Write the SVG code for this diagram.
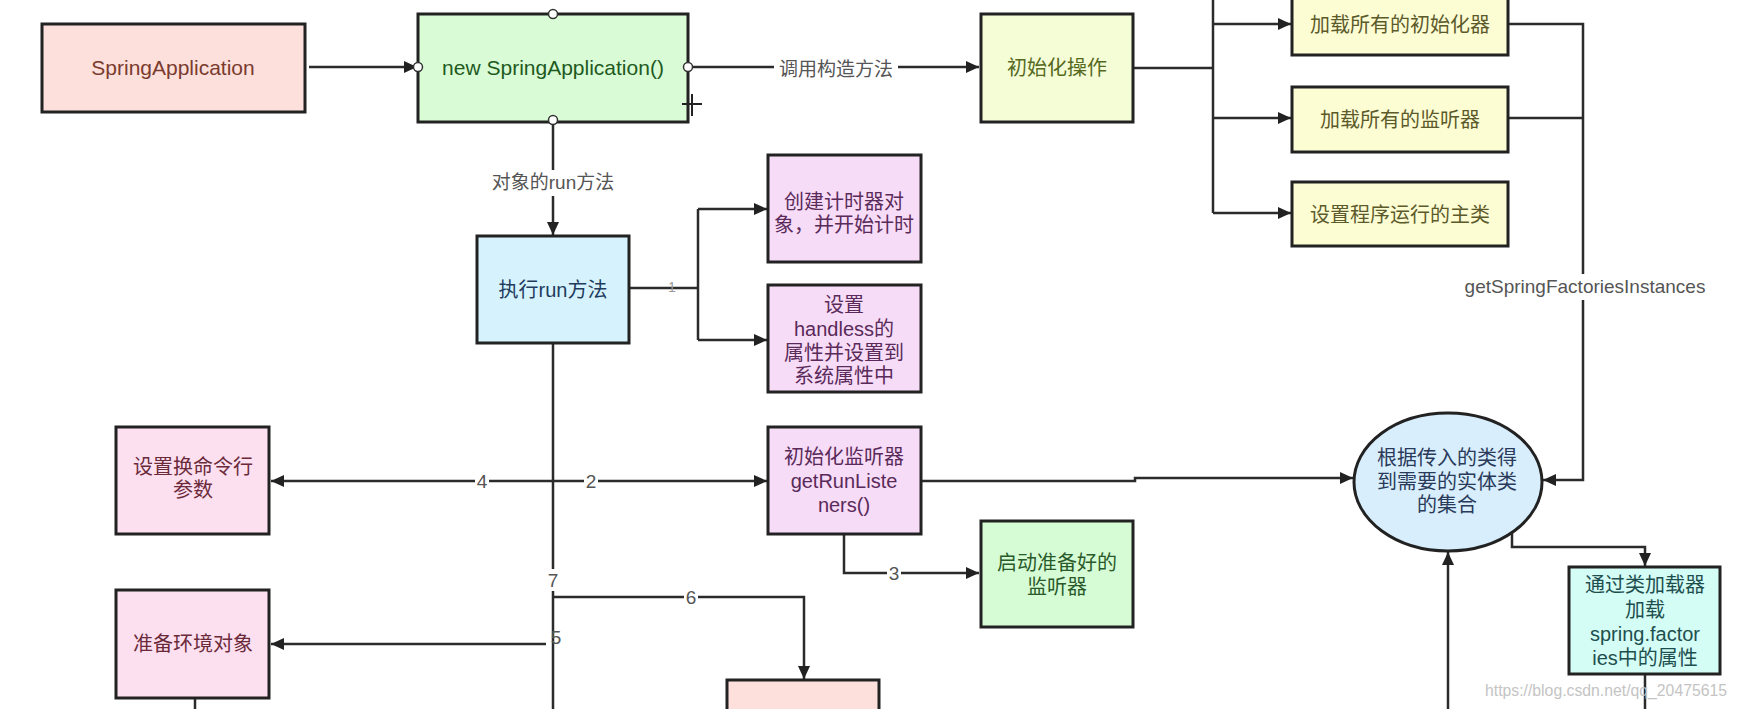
<svg xmlns="http://www.w3.org/2000/svg" width="1737" height="709" viewBox="0 0 1737 709">
<style>
.box{stroke:#222;stroke-width:3}
.edge{fill:none;stroke:#2b2b2b;stroke-width:2.5}
text{font-family:"Liberation Sans","Noto Sans CJK SC",sans-serif;font-size:20px;text-anchor:middle;dominant-baseline:central}
.lat{font-size:21px}
.lb{fill:#555;font-size:19px}
.bg{fill:#fff}
.pt{fill:#fff;stroke:#333;stroke-width:1.5}
</style>
<defs>
<marker id="ar" markerUnits="userSpaceOnUse" markerWidth="13" markerHeight="12" refX="13" refY="6" orient="auto">
<path d="M0,0 L13,6 L0,12 z" fill="#222"/>
</marker>
</defs>
<rect width="1737" height="709" fill="#fff"/>

<g id="connectors">
<path class="edge" d="M309,67 H417" marker-end="url(#ar)"/>
<path class="edge" d="M687,67 H979" marker-end="url(#ar)"/>
<path class="edge" d="M553,122 V235" marker-end="url(#ar)"/>
<path class="edge" d="M1133,68 H1213"/>
<path class="edge" d="M1213,0 V213"/>
<path class="edge" d="M1213,24 H1291" marker-end="url(#ar)"/>
<path class="edge" d="M1213,118 H1291" marker-end="url(#ar)"/>
<path class="edge" d="M1213,213 H1291" marker-end="url(#ar)"/>
<path class="edge" d="M1508,24 H1583 V480 H1543" marker-end="url(#ar)"/>
<path class="edge" d="M1508,118 H1583"/>
<path class="edge" d="M629,288 H698"/>
<path class="edge" d="M698,209 V340"/>
<path class="edge" d="M698,209 H767" marker-end="url(#ar)"/>
<path class="edge" d="M698,340 H767" marker-end="url(#ar)"/>
<path class="edge" d="M553,343 V709"/>
<path class="edge" d="M553,481 H271" marker-end="url(#ar)"/>
<path class="edge" d="M553,481 H767" marker-end="url(#ar)"/>
<path class="edge" d="M546,644 H271" marker-end="url(#ar)"/>
<path class="edge" d="M553,597 H804 V679" marker-end="url(#ar)"/>
<path class="edge" d="M844,534 V573 H979" marker-end="url(#ar)"/>
<path class="edge" d="M921,481 H1135 V478 H1353" marker-end="url(#ar)"/>
<path class="edge" d="M1448,709 V552" marker-end="url(#ar)"/>
<path class="edge" d="M1512,532 V547 H1645 V566" marker-end="url(#ar)"/>
<path class="edge" d="M1645,674 V709"/>
<path class="edge" d="M195,698 V709"/>
<rect class="bg" x="774" y="56" width="124" height="26"/>
<text x="836" y="69" class="lb">调用构造方法</text>
<rect class="bg" x="489" y="170" width="128" height="26"/>
<text x="553" y="182" class="lb">对象的run方法</text>
<rect class="bg" x="1452" y="274" width="266" height="26"/>
<text x="1585" y="286" class="lb">getSpringFactoriesInstances</text>
<text x="672" y="287" style="font-size:14px;fill:#999">1</text>
<rect class="bg" x="475" y="470" width="14" height="22"/>
<text x="482" y="481" class="lb">4</text>
<rect class="bg" x="584" y="470" width="14" height="22"/>
<text x="591" y="481" class="lb">2</text>
<rect class="bg" x="887" y="562" width="14" height="22"/>
<text x="894" y="573" class="lb">3</text>
<rect class="bg" x="546" y="569" width="14" height="22"/>
<text x="553" y="580" class="lb">7</text>
<rect class="bg" x="684" y="586" width="14" height="22"/>
<text x="691" y="597" class="lb">6</text>
<text x="556" y="637" class="lb">5</text>
</g>

<g id="n-springapp">
<rect class="box" x="42" y="24" width="263" height="88" fill="#fde0dc"/>
<text x="173" y="67" class="lat" fill="#7a3b2e">SpringApplication</text>
</g>
<g id="n-new">
<rect class="box" x="418" y="14" width="270" height="108" fill="#d9fcd6"/>
<text x="553" y="67" class="lat" fill="#1f5a1f">new SpringApplication()</text>
<circle class="pt" cx="553" cy="14" r="4.5"/>
<circle class="pt" cx="418" cy="67" r="4.5"/>
<circle class="pt" cx="688" cy="67" r="4.5"/>
<circle class="pt" cx="553" cy="120" r="4.5"/>
<path d="M682,104 H702 M692,94 V116" stroke="#222" stroke-width="2" fill="none"/>
</g>
<g id="n-initop">
<rect class="box" x="981" y="14" width="152" height="108" fill="#f4fdd6"/>
<text x="1057" y="68" fill="#56691e">初始化操作</text>
</g>
<g id="n-initializers">
<rect class="box" x="1292" y="-10" width="216" height="65" fill="#fdfdd4"/>
<text x="1400" y="25" fill="#5c5a2a">加载所有的初始化器</text>
</g>
<g id="n-listeners">
<rect class="box" x="1292" y="87" width="216" height="65" fill="#fdfdd4"/>
<text x="1400" y="120" fill="#5c5a2a">加载所有的监听器</text>
</g>
<g id="n-mainclass">
<rect class="box" x="1292" y="182" width="216" height="64" fill="#fdfdd4"/>
<text x="1400" y="215" fill="#5c5a2a">设置程序运行的主类</text>
</g>
<g id="n-run">
<rect class="box" x="477" y="236" width="152" height="107" fill="#d6f3fd"/>
<text x="553" y="290" fill="#1f3c5e">执行run方法</text>
</g>
<g id="n-timer">
<rect class="box" x="768" y="155" width="153" height="107" fill="#f7dcf7"/>
<text x="844" y="202" fill="#5a2a5a">创建计时器对</text>
<text x="844" y="225" fill="#5a2a5a">象，并开始计时</text>
</g>
<g id="n-headless">
<rect class="box" x="768" y="285" width="153" height="107" fill="#f7dcf7"/>
<text x="844" y="305" fill="#5a2a5a">设置</text>
<text x="844" y="329" fill="#5a2a5a">handless的</text>
<text x="844" y="353" fill="#5a2a5a">属性并设置到</text>
<text x="844" y="376" fill="#5a2a5a">系统属性中</text>
</g>
<g id="n-getrun">
<rect class="box" x="768" y="427" width="153" height="107" fill="#f7dcf7"/>
<text x="844" y="457" fill="#5a2a5a">初始化监听器</text>
<text x="844" y="481" fill="#5a2a5a">getRunListe</text>
<text x="844" y="505" fill="#5a2a5a">ners()</text>
</g>
<g id="n-args">
<rect class="box" x="116" y="427" width="153" height="107" fill="#fde0f0"/>
<text x="193" y="467" fill="#6b2a3a">设置换命令行</text>
<text x="193" y="490" fill="#6b2a3a">参数</text>
</g>
<g id="n-env">
<rect class="box" x="116" y="590" width="153" height="108" fill="#fde0f0"/>
<text x="193" y="644" fill="#6b2a3a">准备环境对象</text>
</g>
<g id="n-start">
<rect class="box" x="981" y="521" width="152" height="106" fill="#d6fcd6"/>
<text x="1057" y="563" fill="#2a5a2a">启动准备好的</text>
<text x="1057" y="587" fill="#2a5a2a">监听器</text>
</g>
<g id="n-bottom">
<rect class="box" x="727" y="680" width="152" height="40" fill="#fde0dc"/>
</g>
<g id="n-collect">
<ellipse class="box" cx="1448" cy="482" rx="94" ry="69" fill="#d8eefc"/>
<text x="1447" y="458" fill="#2a3a5a">根据传入的类得</text>
<text x="1447" y="482" fill="#2a3a5a">到需要的实体类</text>
<text x="1447" y="505" fill="#2a3a5a">的集合</text>
</g>
<g id="n-loader">
<rect class="box" x="1569" y="567" width="151" height="107" fill="#d4fdf5"/>
<text x="1645" y="585" fill="#1e4f4f">通过类加载器</text>
<text x="1645" y="610" fill="#1e4f4f">加载</text>
<text x="1645" y="634" fill="#1e4f4f">spring.factor</text>
<text x="1645" y="658" fill="#1e4f4f">ies中的属性</text>
</g>
<text x="1606" y="690" style="font-size:16px;fill:#c4c4c4" textLength="242" lengthAdjust="spacingAndGlyphs">https://blog.csdn.net/qq_20475615</text>
</svg>
